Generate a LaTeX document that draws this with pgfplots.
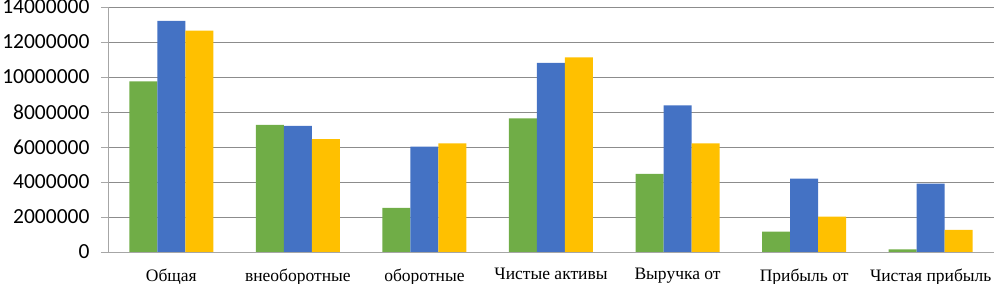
\documentclass[border=0pt]{standalone}
\usepackage{pgfplots}
\pgfplotsset{compat=1.18}
\usepackage{fontspec}
\setmainfont{Liberation Serif}
\newfontfamily\tickfont{Carlito}
\definecolor{cgreen}{HTML}{70AD47}
\definecolor{cblue}{HTML}{4472C4}
\definecolor{cyellow}{HTML}{FFC000}
\definecolor{cgrid}{HTML}{8C8C8C}
\definecolor{caxis}{HTML}{A6A6A6}
\begin{document}
\begin{tikzpicture}[x=1pt,y=1pt]
\path[use as bounding box] (0,0) rectangle (994,284);
\begin{axis}[
  at={(108pt,32pt)}, anchor=south west,
  width=886pt, height=245pt, scale only axis,
  ybar=0pt, bar width=28pt,
  xmin=-0.5, xmax=6.5, ymin=0, ymax=14000000,
  xtick={0,1,2,3,4,5,6},
  xticklabels={Общая,внеоборотные,оборотные,Чистые активы,Выручка от,Прибыль от,Чистая прибыль},
  major x tick style={draw=none},
  extra x ticks={-0.5,0.5,1.5,2.5,3.5,4.5,5.5,6.5},
  extra x tick labels={},
  extra x tick style={major tick length=5pt, tick style={draw=caxis, line width=0.8pt}, grid=none},
  ytick={0,2000000,4000000,6000000,8000000,10000000,12000000,14000000},
  yticklabels={0,2000000,4000000,6000000,8000000,10000000,12000000,14000000},
  scaled y ticks=false,
  ymajorgrids,
  grid style={draw=cgrid, line width=0.9pt},
  axis x line*=bottom, axis y line*=left,
  axis line style={draw=caxis, line width=0.9pt},
  tick align=outside,
  major tick length=7pt,
  y tick style={draw=caxis, line width=0.9pt},
  yticklabel style={font=\tickfont\fontsize{21.5}{22}\selectfont, xshift=-8pt},
  xticklabel style={font=\fontsize{17.5}{18}\selectfont, yshift=-6pt},
  every axis plot/.append style={draw=none},
]
\addplot[fill=cgreen] coordinates {(0,9750000) (1,7260000) (2,2520000) (3,7640000) (4,4460000) (5,1160000) (6,150000)};
\addplot[fill=cblue] coordinates {(0,13200000) (1,7200000) (2,6020000) (3,10800000) (4,8380000) (5,4190000) (6,3900000)};
\addplot[fill=cyellow] coordinates {(0,12650000) (1,6450000) (2,6210000) (3,11120000) (4,6210000) (5,2020000) (6,1260000)};
\end{axis}
\end{tikzpicture}
\end{document}
